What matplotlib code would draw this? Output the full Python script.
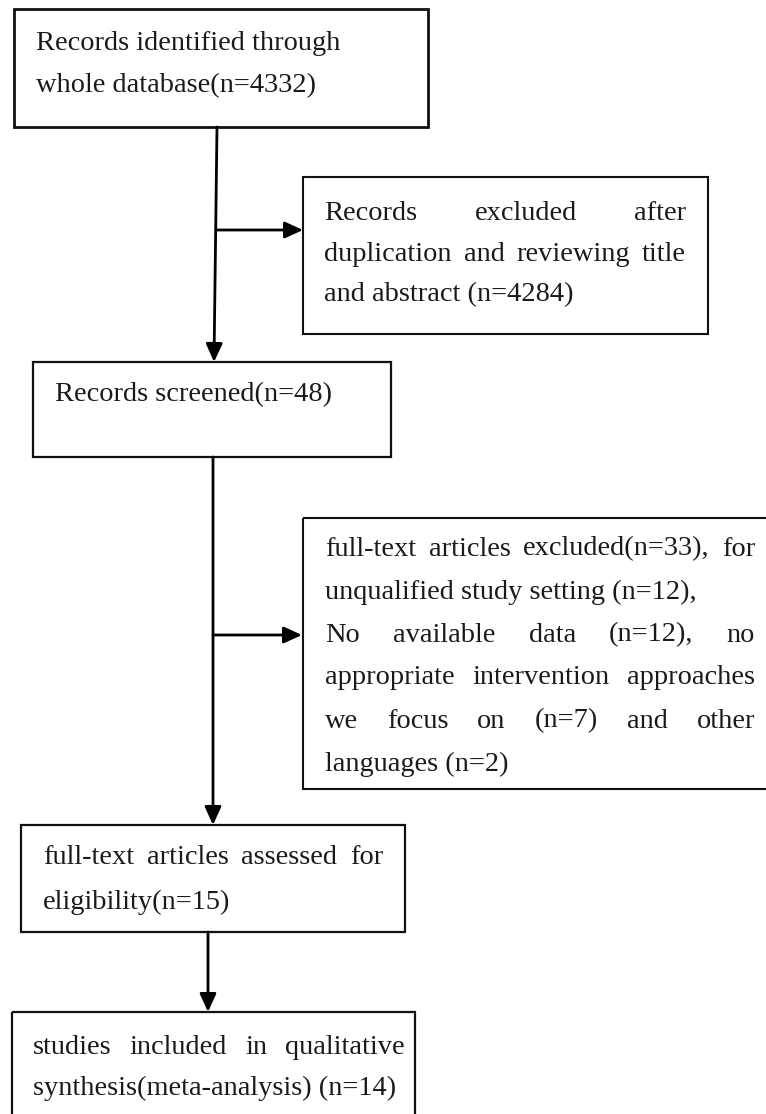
import matplotlib.pyplot as plt
from matplotlib.patches import Rectangle

W, H = 766, 1114

# box geometry in pixels: (left, top, right, bottom)
box_rects = [
    (14, 9, 428, 127),
    (303, 177, 708, 334),
    (33, 362, 391, 457),
    (303, 518, 775, 789),
    (21, 825, 405, 932),
    (12, 1012, 415, 1125),
]
box_widths = [2.0, 1.5, 1.6, 1.5, 1.6, 1.6]

# text lines per box: (text, justified)
box_lines = [
    [("Records identified through", False), ("whole database(n=4332)", False)],
    [("Records excluded after", True),
     ("duplication and reviewing title", True),
     ("and abstract (n=4284)", False)],
    [("Records screened(n=48)", False)],
    [("full-text articles excluded(n=33), for", True),
     ("unqualified study setting (n=12),", False),
     ("No available data (n=12), no", True),
     ("appropriate intervention approaches", True),
     ("we focus on (n=7) and other", True),
     ("languages (n=2)", False)],
    [("full-text articles assessed for", True), ("eligibility(n=15)", False)],
    [("studies included in qualitative", True),
     ("synthesis(meta-analysis) (n=14)", False)],
]

# text layout: (left x, right x, first line y, line step)
text_layout = [
    (36, 400, 41, 42),
    (324, 686, 211, 40.5),
    (55, 380, 392, 0),
    (325, 755, 546, 43),
    (43, 383, 855, 44),
    (33, 405, 1045, 40),
]

# arrows: (x0, y0, x1, y1)
arrows = [
    (217, 127, 214, 362),
    (216, 230, 303, 230),
    (213, 457, 213, 825),
    (213, 635, 302, 635),
    (208, 932, 208, 1012),
]

FONT = "Liberation Serif"
SIZE = 20.4

fig = plt.figure(figsize=(W / 100, H / 100), dpi=100)
ax = fig.add_axes([0, 0, 1, 1])
ax.set_xlim(0, W)
ax.set_ylim(H, 0)
ax.axis("off")

for (l, t, r, b), lw in zip(box_rects, box_widths):
    ax.add_patch(Rectangle((l, t), r - l, b - t, fill=False, edgecolor="#111111", linewidth=lw))

for (x0, y0, x1, y1) in arrows:
    ax.annotate("", xy=(x1, y1), xytext=(x0, y0),
                arrowprops=dict(arrowstyle="-|>,head_length=1.1,head_width=0.5",
                                color="black", lw=2.0, shrinkA=0, shrinkB=0))

fig.canvas.draw()
renderer = fig.canvas.get_renderer()


def word_width(word):
    t = ax.text(0, 0, word, fontsize=SIZE, family=FONT)
    bb = t.get_window_extent(renderer=renderer)
    t.remove()
    return bb.width


for lines, (lx, rx, y0, step) in zip(box_lines, text_layout):
    for i, (line, justified) in enumerate(lines):
        y = y0 + i * step
        if not justified:
            ax.text(lx, y, line, fontsize=SIZE, family=FONT, ha="left",
                    va="center_baseline", color="#1a1a1a")
            continue
        words = line.split()
        widths = [word_width(w) for w in words]
        gap = (rx - lx - sum(widths)) / (len(words) - 1)
        x = lx
        for w, wd in zip(words, widths):
            ax.text(x, y, w, fontsize=SIZE, family=FONT, ha="left",
                    va="center_baseline", color="#1a1a1a")
            x += wd + gap

fig.savefig("out.png", dpi=100, facecolor="white")
